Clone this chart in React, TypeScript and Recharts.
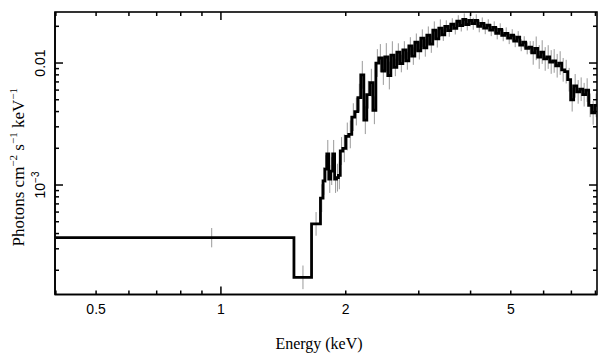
import { ComposedChart, Line, Scatter, ErrorBar, XAxis, YAxis, Label } from "recharts";

// bin edges in keV (one more than the flux values)
const binEdges = [
  0.4, 1.5, 1.654, 1.738, 1.763, 1.781, 1.8, 1.82, 1.84, 1.86, 1.88, 1.9, 1.92, 1.94,
  1.968, 2.0, 2.034, 2.068, 2.103, 2.139, 2.174, 2.211, 2.248, 2.286, 2.325, 2.364,
  2.403, 2.444, 2.484, 2.526, 2.569, 2.612, 2.656, 2.7, 2.746, 2.792, 2.839, 2.886,
  2.935, 2.984, 3.034, 3.085, 3.137, 3.189, 3.243, 3.297, 3.353, 3.409, 3.466, 3.524,
  3.583, 3.643, 3.705, 3.766, 3.83, 3.894, 3.96, 4.026, 4.094, 4.162, 4.232, 4.303,
  4.375, 4.449, 4.523, 4.599, 4.676, 4.755, 4.834, 4.915, 4.998, 5.082, 5.167, 5.254,
  5.342, 5.432, 5.523, 5.616, 5.71, 5.806, 5.903, 6.002, 6.103, 6.206, 6.31, 6.415,
  6.523, 6.632, 6.744, 6.857, 6.972, 7.089, 7.208, 7.329, 7.452, 7.577, 7.704, 7.833,
  7.965, 8.1,
];

// photons cm^-2 s^-1 keV^-1 per bin
const flux = [
  3.7e-4, 1.75e-4, 4.8e-4, 7.8e-4, 1.08e-3, 1.35e-3, 1.8e-3, 1.12e-3, 1.3e-3, 1.8e-3,
  1.12e-3, 1.15e-3, 1.2e-3, 1.9e-3,
  0.002, 0.0025, 0.0026, 0.0036, 0.004, 0.0052, 0.008, 0.0034, 0.0055, 0.0069, 0.0041,
  0.01, 0.011, 0.0086, 0.0112, 0.0079, 0.0116, 0.0092, 0.0123, 0.0099, 0.0128, 0.0104,
  0.0138, 0.0114, 0.0148, 0.0126, 0.016, 0.0133, 0.0169, 0.0143, 0.0186, 0.0158, 0.0193,
  0.017, 0.02, 0.0184, 0.0208, 0.0192, 0.022, 0.0203, 0.0228, 0.0207, 0.0224, 0.021,
  0.0224, 0.02, 0.0211, 0.0193, 0.0204, 0.0186, 0.0196, 0.0175, 0.0189, 0.0169, 0.0175,
  0.016, 0.0169, 0.0151, 0.0163, 0.014, 0.0148, 0.0132, 0.0135, 0.0121, 0.0132, 0.0112,
  0.0123, 0.0108, 0.0112, 0.0102, 0.0104, 0.0095, 0.01, 0.0088, 0.0085, 0.0073, 0.005,
  0.0065, 0.0058, 0.0061, 0.0055, 0.006, 0.0045, 0.0039, 0.0045,
];

// relative 1-sigma error, by energy range (upper bound in keV)
const errRangeMax = [1.55, 1.7, 2.6, 3.4, 5.6, 9];
const errFrac = [0.2, 0.25, 0.3, 0.18, 0.12, 0.25];

const xDomain = [0.398, 8.07];
const yDomain = [1.266e-4, 0.0262];
const xTicks = [0.4, 0.5, 0.6, 0.7, 0.8, 0.9, 1, 2, 3, 4, 5, 6, 7, 8];
const xLabels = [0.5, 1, 2, 5];
const xLong = [1];
const yTicks = [
  2e-4, 3e-4, 4e-4, 5e-4, 6e-4, 7e-4, 8e-4, 9e-4, 1e-3,
  2e-3, 3e-3, 4e-3, 5e-3, 6e-3, 7e-3, 8e-3, 9e-3, 0.01, 0.02,
];
const yLong = [1e-3, 0.01];

const n = Math.min(flux.length, binEdges.length - 1);
const stepData = [
  ...flux.slice(0, n).map((f, i) => ({ e: binEdges[i], f })),
  { e: binEdges[n], f: flux[n - 1] },
];
const errData = flux.slice(0, n).map((f, i) => {
  const c = (binEdges[i] + binEdges[i + 1]) / 2;
  const k = errRangeMax.findIndex((m) => c <= m);
  const r = errFrac[k < 0 ? errFrac.length - 1 : k];
  return { e: c, f, err: [f - f / (1 + r), f * r] };
});

const W = 609;
const H = 357;
const M = { left: 55, right: 12, top: 12, bottom: 62.5 };
const PLOT_W = W - M.left - M.right;
const PLOT_H = H - M.top - M.bottom;

const SANS = "'Liberation Sans', Arial, sans-serif";
const SERIF = "'Liberation Serif', 'Times New Roman', serif";
const TICK_W = 1.5;
const axisLine = { stroke: "#000", strokeWidth: 1.6 };

// bottom tick, mirrored on the top edge; all ticks point into the plot
const xTick = (props: any) => {
  const { x, y, payload } = props;
  const v = payload.value;
  const len = xLong.includes(v) ? 8 : 4;
  const top = y - PLOT_H;
  return (
    <g>
      <line x1={x} x2={x} y1={y} y2={y - len} stroke="#000" strokeWidth={TICK_W} />
      <line x1={x} x2={x} y1={top} y2={top + len} stroke="#000" strokeWidth={TICK_W} />
      {xLabels.includes(v) && (
        <text x={x} y={y + 19} textAnchor="middle" fontFamily={SANS} fontSize={14} fill="#000">
          {v}
        </text>
      )}
    </g>
  );
};

// left tick, mirrored on the right edge
const yTick = (props: any) => {
  const { x, y, payload } = props;
  const v = payload.value;
  const len = yLong.includes(v) ? 8 : 4;
  const right = x + PLOT_W;
  const tx = x - 10;
  return (
    <g>
      <line x1={x} x2={x + len} y1={y} y2={y} stroke="#000" strokeWidth={TICK_W} />
      <line x1={right} x2={right - len} y1={y} y2={y} stroke="#000" strokeWidth={TICK_W} />
      {v === 0.01 && (
        <text x={tx} y={y} transform={`rotate(-90, ${tx}, ${y})`} textAnchor="middle"
          fontFamily={SANS} fontSize={14} fill="#000">0.01</text>
      )}
      {v === 1e-3 && (
        <text x={tx} y={y} transform={`rotate(-90, ${tx}, ${y})`} textAnchor="middle"
          fontFamily={SANS} fontSize={14} fill="#000">
          <tspan>10</tspan>
          <tspan dy={-6} fontSize={10}>−3</tspan>
        </text>
      )}
    </g>
  );
};

export default function App() {
  return (
    <div style={{ position: "absolute", left: 0, top: 0, background: "#fff" }}>
      <ComposedChart width={W} height={H} margin={{ top: M.top, right: M.right, bottom: 0, left: 0 }}>
        <XAxis dataKey="e" type="number" scale="log" domain={xDomain} allowDataOverflow
          ticks={xTicks} interval={0} tickSize={0} tickMargin={0} height={M.bottom}
          axisLine={axisLine} tick={xTick}>
          <Label content={(p: any) => {
            const vb = p.viewBox;
            return (
              <g>
                <rect x={vb.x} y={vb.y - PLOT_H} width={vb.width} height={PLOT_H}
                  fill="none" stroke="#000" strokeWidth={1.6} />
                <text x={vb.x + vb.width / 2 - 7} y={vb.y + 54} textAnchor="middle"
                  fontFamily={SERIF} fontSize={16} fill="#000">Energy (keV)</text>
              </g>
            );
          }} />
        </XAxis>
        <YAxis type="number" scale="log" domain={yDomain} allowDataOverflow
          ticks={yTicks} interval={0} tickSize={0} tickMargin={0} width={M.left}
          axisLine={axisLine} tick={yTick}>
          <Label content={(p: any) => {
            const vb = p.viewBox;
            const cx = 24;
            const cy = vb.y + vb.height / 2 + 14;
            return (
              <text x={cx} y={cy} transform={`rotate(-90, ${cx}, ${cy})`} textAnchor="middle"
                fontFamily={SERIF} fontSize={17} fill="#000">
                <tspan>Photons cm</tspan>
                <tspan dy={-7} fontSize={11}>−2</tspan>
                <tspan dy={7}> s</tspan>
                <tspan dy={-7} fontSize={11}>−1</tspan>
                <tspan dy={7}> keV</tspan>
                <tspan dy={-7} fontSize={11}>−1</tspan>
              </text>
            );
          }} />
        </YAxis>
        <Scatter data={errData} dataKey="f" isAnimationActive={false} shape={() => <g />}>
          <ErrorBar dataKey="err" direction="y" width={0} stroke="#9a9a9a" strokeWidth={1} />
        </Scatter>
        <Line data={stepData} dataKey="f" type="stepAfter" stroke="#000" strokeWidth={2.8}
          dot={false} activeDot={false} isAnimationActive={false} />
      </ComposedChart>
    </div>
  );
}
